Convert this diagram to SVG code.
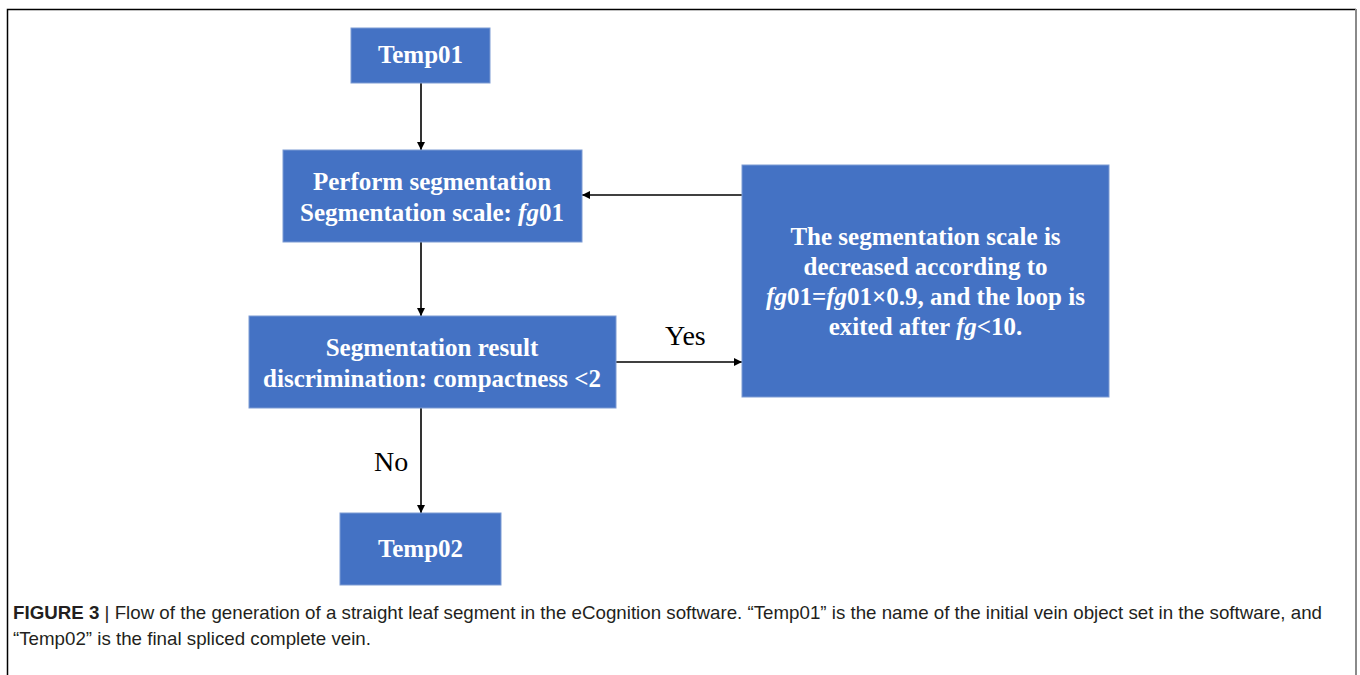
<svg xmlns="http://www.w3.org/2000/svg" width="1360" height="675" viewBox="0 0 1360 675">
<defs>
<style>
.box{fill:#4472C4;stroke:#7d9bd3;stroke-width:1}
.bt{font-family:"Liberation Serif","Times New Roman",serif;font-weight:bold;font-size:25px;fill:#fff;text-anchor:middle}
.lbl{font-family:"Liberation Serif","Times New Roman",serif;font-size:28px;fill:#000}
.ln{stroke:#000;stroke-width:1.6;fill:none}
.cap{font-family:"Liberation Sans",Arial,sans-serif;font-size:18.5px;fill:#231f20}
</style>
<marker id="ah" viewBox="0 0 10 10" refX="10" refY="5" markerWidth="8" markerHeight="8" markerUnits="userSpaceOnUse" orient="auto">
<path d="M0,0 L10,5 L0,10 z" fill="#000"/>
</marker>
</defs>
<rect width="1360" height="675" fill="#fff"/>
<g id="frame">
<path d="M7.5,680 L7.5,9.5 L1356,9.5" stroke="#000" stroke-width="1.5" fill="none"/>
<line x1="1356" y1="9" x2="1356" y2="680" stroke="#8a8a8a" stroke-width="2"/>
</g>
<g id="connectors">
<line class="ln" x1="421" y1="83" x2="421" y2="150" marker-end="url(#ah)"/>
<line class="ln" x1="421" y1="242" x2="421" y2="316" marker-end="url(#ah)"/>
<line class="ln" x1="421" y1="408" x2="421" y2="513" marker-end="url(#ah)"/>
<line class="ln" x1="616" y1="362" x2="742" y2="362" marker-end="url(#ah)"/>
<line class="ln" x1="742" y1="195" x2="582" y2="195" marker-end="url(#ah)"/>
<text class="lbl" x="665" y="345">Yes</text>
<text class="lbl" x="374" y="471">No</text>
</g>
<g id="temp01">
<rect class="box" x="351" y="28" width="139" height="55"/>
<text class="bt" x="420.5" y="63" font-size="24">Temp01</text>
</g>
<g id="perform">
<rect class="box" x="283" y="150" width="299" height="92"/>
<text class="bt" x="432" y="190">Perform segmentation</text>
<text class="bt" x="432" y="221">Segmentation scale: <tspan font-style="italic">fg</tspan>01</text>
</g>
<g id="decrease">
<rect class="box" x="742" y="165" width="367" height="232"/>
<text class="bt" x="925.5" y="245">The segmentation scale is</text>
<text class="bt" x="925.5" y="275">decreased according to</text>
<text class="bt" x="925.5" y="305"><tspan font-style="italic">fg</tspan>01=<tspan font-style="italic">fg</tspan>01×0.9, and the loop is</text>
<text class="bt" x="925.5" y="335">exited after <tspan font-style="italic">fg</tspan>&lt;10.</text>
</g>
<g id="discriminate">
<rect class="box" x="249" y="316" width="367" height="92"/>
<text class="bt" x="432" y="356">Segmentation result</text>
<text class="bt" x="432" y="387">discrimination: compactness &lt;2</text>
</g>
<g id="temp02">
<rect class="box" x="340" y="513" width="161" height="72"/>
<text class="bt" x="420.5" y="557" font-size="24">Temp02</text>
</g>
<g id="caption">
<text class="cap" x="13" y="619" textLength="1309" lengthAdjust="spacingAndGlyphs"><tspan font-weight="bold">FIGURE 3</tspan> | Flow of the generation of a straight leaf segment in the eCognition software. “Temp01” is the name of the initial vein object set in the software, and</text>
<text class="cap" x="13" y="645" textLength="358" lengthAdjust="spacingAndGlyphs">“Temp02” is the final spliced complete vein.</text>
</g>
</svg>
